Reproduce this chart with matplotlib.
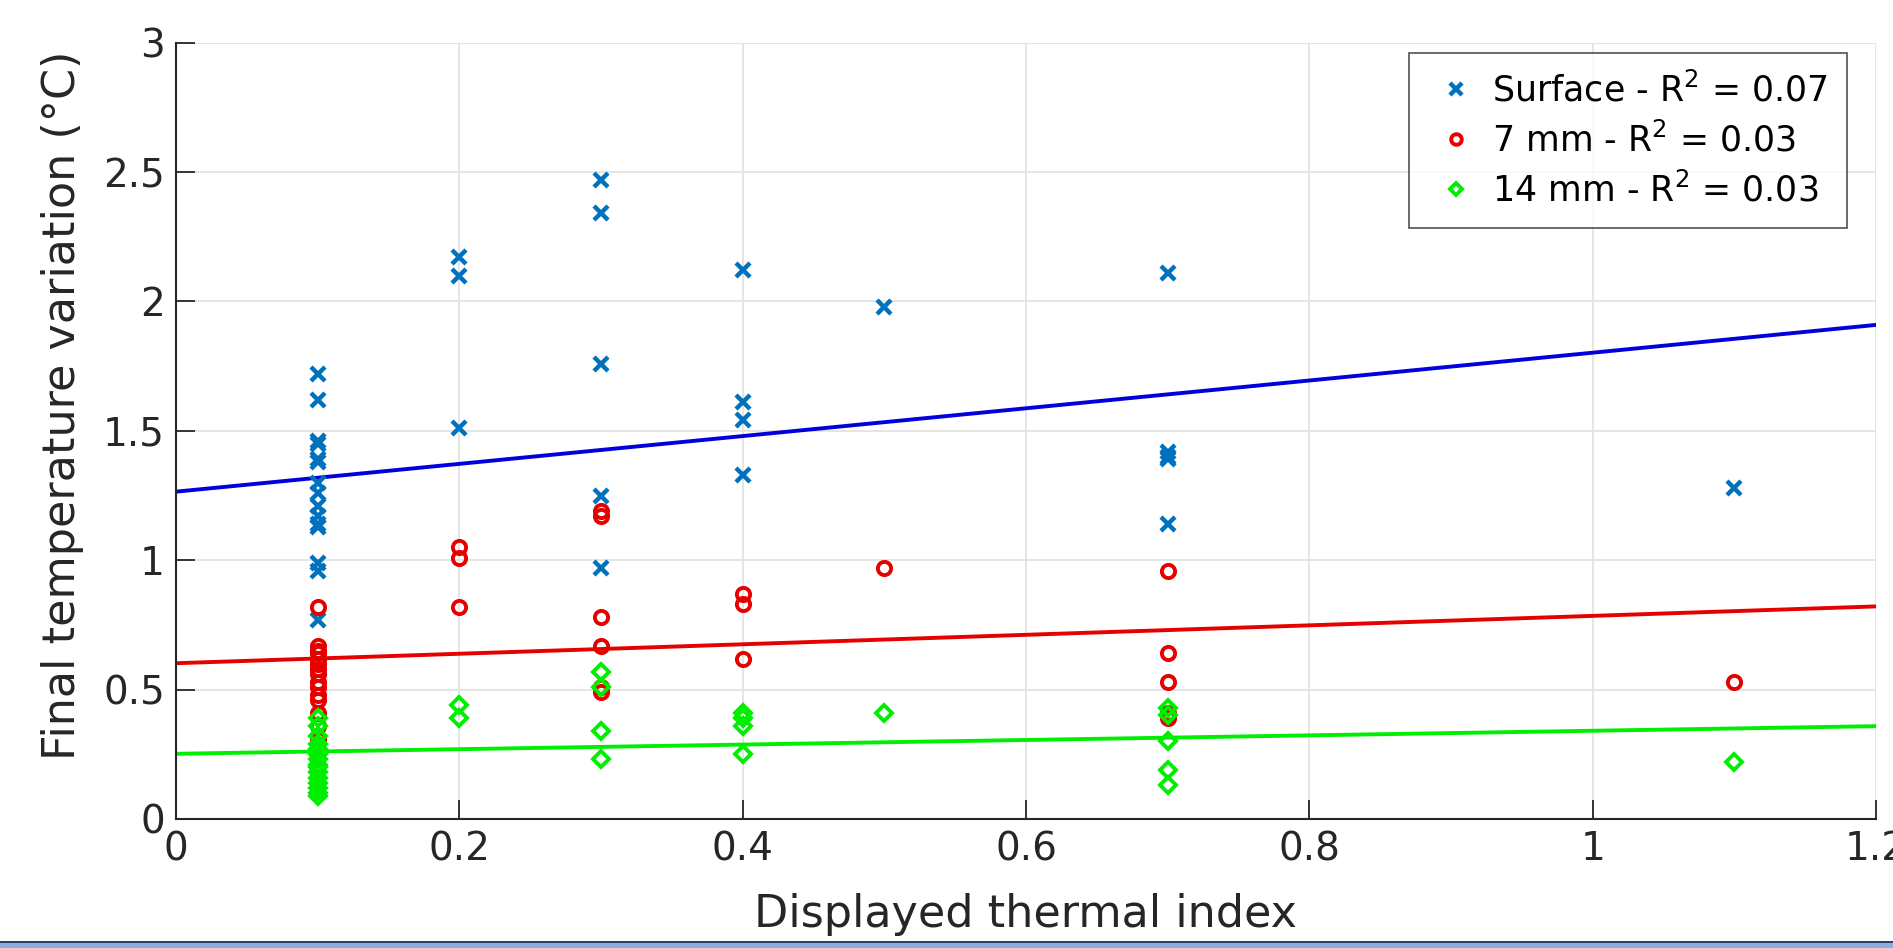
import matplotlib
matplotlib.use("Agg")
import matplotlib.pyplot as plt
from matplotlib.patches import Rectangle
import numpy as np

# ---- data ----
surface_x = [0.1]*15 + [0.2]*3 + [0.3]*5 + [0.4]*4 + [0.5] + [0.7]*5 + [1.1]
surface_y = [1.72, 1.62, 1.46, 1.45, 1.39, 1.38, 1.30, 1.26, 1.21, 1.17, 1.14, 1.13, 0.99, 0.96, 0.77,
             2.17, 2.10, 1.51,
             2.47, 2.34, 1.76, 1.25, 0.97,
             2.12, 1.61, 1.54, 1.33,
             1.98,
             2.11, 1.42, 1.40, 1.39, 1.14,
             1.28]

mm7_x = [0.1]*15 + [0.2]*3 + [0.3]*6 + [0.4]*3 + [0.5] + [0.7]*5 + [1.1]
mm7_y = [0.82, 0.67, 0.65, 0.64, 0.62, 0.60, 0.58, 0.56, 0.53, 0.51, 0.48, 0.46, 0.41, 0.36, 0.31,
         1.05, 1.01, 0.82,
         1.19, 1.17, 0.78, 0.67, 0.51, 0.49,
         0.87, 0.83, 0.62,
         0.97,
         0.96, 0.64, 0.53, 0.41, 0.39,
         0.53]

mm14_x = [0.1]*15 + [0.2]*2 + [0.3]*4 + [0.4]*4 + [0.5] + [0.7]*5 + [1.1]
mm14_y = [0.39, 0.36, 0.32, 0.29, 0.27, 0.25, 0.23, 0.21, 0.20, 0.18, 0.16, 0.14, 0.12, 0.10, 0.09,
          0.44, 0.39,
          0.57, 0.51, 0.34, 0.23,
          0.41, 0.39, 0.36, 0.25,
          0.41,
          0.43, 0.40, 0.30, 0.19, 0.13,
          0.22]

fit_intercept = [1.265, 0.602, 0.252]
fit_slope = [0.537, 0.183, 0.089]
labels = ['Surface - R$^2$ = 0.07', '7 mm - R$^2$ = 0.03', '14 mm - R$^2$ = 0.03']
xticks = [0, 0.2, 0.4, 0.6, 0.8, 1, 1.2]
xtick_labels = ['0', '0.2', '0.4', '0.6', '0.8', '1', '1.2']
yticks = [0, 0.5, 1, 1.5, 2, 2.5, 3]
ytick_labels = ['0', '0.5', '1', '1.5', '2', '2.5', '3']

# ---- styles ----
marker_colors = ['#0072BD', '#E60000', '#00EE00']
line_colors = ['#0000DD', '#E60000', '#00EE00']
plt.rcParams['font.family'] = ['DejaVu Sans']
plt.rcParams['mathtext.fontset'] = 'dejavusans'

fig = plt.figure(figsize=(18.93, 9.48), dpi=100)
ax = fig.add_axes([176/1893, 1-819/948, 1700/1893, (819-42.7)/948])

ax.grid(True, color='#E3E3E3', linewidth=1.3)
ax.set_axisbelow(True)

h1, = ax.plot(surface_x, surface_y, linestyle='none', marker='x', ms=10, mew=3.2,
              color=marker_colors[0], label=labels[0], zorder=3)
h2, = ax.plot(mm7_x, mm7_y, linestyle='none', marker='o', ms=9.5, mew=2.8, mfc='none',
              color=marker_colors[1], label=labels[1], zorder=3)
h3, = ax.plot(mm14_x, mm14_y, linestyle='none', marker='D', ms=8, mew=2.8, mfc='none',
              color=marker_colors[2], label=labels[2], zorder=3)

xl = np.array([0.0, 1.2])
for b, m, c in zip(fit_intercept, fit_slope, line_colors):
    ax.plot(xl, b + m*xl, color=c, linewidth=2.8, zorder=2)

ax.set_xlim(0, 1.2)
ax.set_ylim(0, 3)
ax.set_xticks(xticks)
ax.set_xticklabels(xtick_labels)
ax.set_yticks(yticks)
ax.set_yticklabels(ytick_labels)
ax.tick_params(direction='in', length=14, width=1.3, colors='#262626', labelsize=28, pad=8)
for s in ['top', 'right']:
    ax.spines[s].set_visible(False)
for s in ['left', 'bottom']:
    ax.spines[s].set_color('#262626')
    ax.spines[s].set_linewidth(1.5)

ax.set_xlabel('Displayed thermal index', fontsize=32, color='#262626', labelpad=18)
ax.set_ylabel('Final temperature variation (°C)', fontsize=32, color='#262626', labelpad=14)
ax.yaxis.label.set_y(0.5325)

leg = ax.legend(handles=[h1, h2, h3], loc='upper right', bbox_to_anchor=(1847/1893, 1-53/948),
                bbox_transform=fig.transFigure, fontsize=25, frameon=True, fancybox=False,
                edgecolor='#262626', borderaxespad=0, handlelength=1.6, handletextpad=0.26,
                labelspacing=0.4, borderpad=0.55, markerscale=0.8)
leg.get_frame().set_linewidth(1.2)

# bottom band
fig.patches.append(Rectangle((0, 0), 1, 5.3/948, transform=fig.transFigure,
                             facecolor='#8DAEDB', edgecolor='none', zorder=10))
fig.patches.append(Rectangle((0, 5.3/948), 1, 2.2/948, transform=fig.transFigure,
                             facecolor='#2E4066', edgecolor='none', zorder=10))

fig.savefig('out.png', dpi=100, facecolor='white')
